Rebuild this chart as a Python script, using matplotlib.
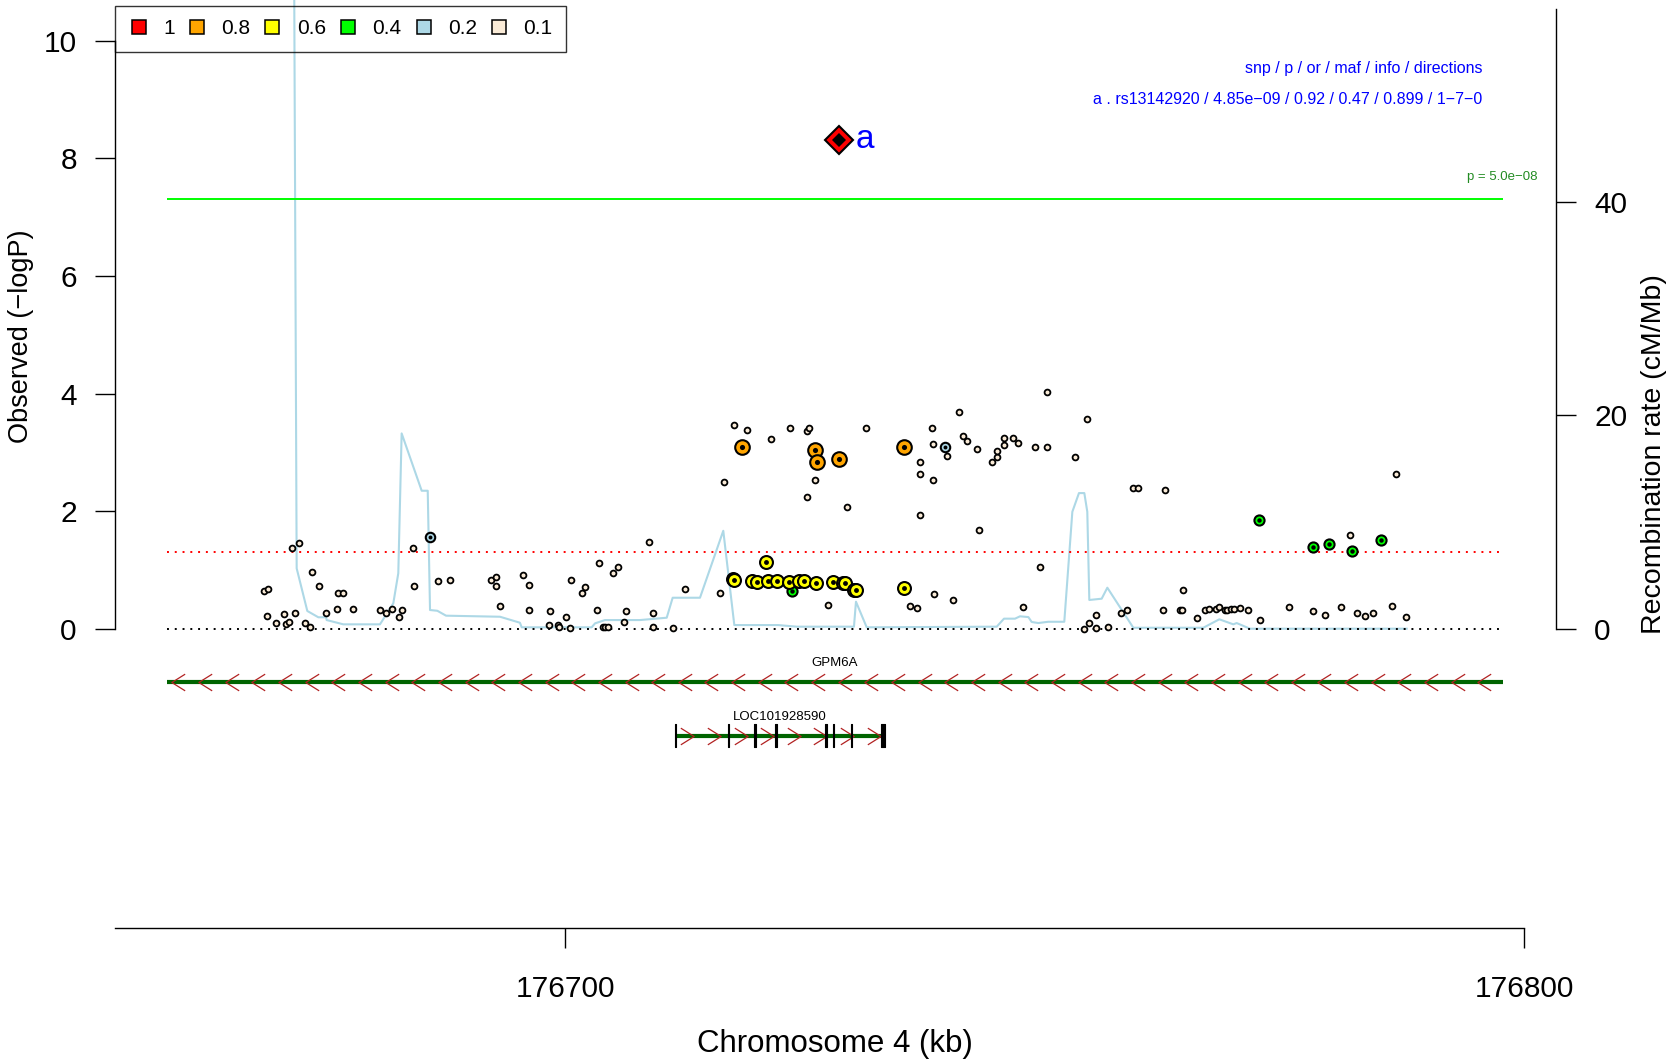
import numpy as np
import matplotlib
matplotlib.use("Agg")
from matplotlib import pyplot as plt
from matplotlib.lines import Line2D
from matplotlib.path import Path

plt.rcParams["font.family"] = ["Liberation Sans", "DejaVu Sans"]

chrom = 4
region = [176658.45, 176797.78]  # kb
gw_p = 5e-08
nominal_p = 0.05

# SNPs by LD class with the lead SNP: position (kb), -log10(p)
low_pos = [176668.57, 176668.96, 176668.92, 176669.82, 176670.63, 176670.83, 176671.21, 176671.84,
           176671.49, 176672.19, 176672.88, 176673.40, 176673.58, 176674.31, 176675.07, 176676.15,
           176676.29, 176676.81, 176677.82, 176680.70, 176681.30, 176681.95, 176682.62, 176682.93,
           176684.08, 176684.19, 176686.72, 176687.94, 176692.28, 176692.77, 176692.74, 176693.19,
           176695.62, 176696.24, 176696.24, 176698.40, 176698.33, 176699.27, 176699.37, 176700.10,
           176700.49, 176700.59, 176701.74, 176702.02, 176703.28, 176703.52, 176703.90, 176704.11,
           176704.45, 176705.01, 176705.53, 176706.30, 176706.15, 176708.73, 176709.12, 176709.12,
           176711.20, 176712.52,
           176716.11, 176716.52, 176717.63, 176718.95, 176721.43, 176723.41, 176725.24, 176725.45,
           176726.01, 176725.24, 176729.35, 176727.40, 176731.40, 176735.96, 176736.72, 176736.97,
           176736.97, 176736.97, 176738.25, 176738.32, 176738.35, 176738.46, 176739.78, 176740.44,
           176741.04, 176741.52, 176741.87, 176742.94, 176743.12, 176744.54, 176745.06, 176745.06,
           176745.76, 176745.76, 176746.73, 176747.19, 176747.74, 176748.96, 176750.22, 176750.25,
           176749.48, 176753.17, 176754.39, 176754.11, 176754.66, 176755.33, 176755.36, 176756.58,
           176758.00, 176758.59, 176759.19, 176759.77,
           176762.32, 176762.59, 176764.12, 176764.30, 176764.43, 176765.92, 176766.76, 176767.18,
           176767.84, 176768.19, 176768.78, 176769.05, 176769.44, 176769.78, 176770.41, 176771.21,
           176772.50, 176775.49, 176778.02, 176779.24, 176780.91, 176781.88, 176782.58, 176783.45,
           176784.22, 176786.26, 176786.65, 176787.72]
low_logp = [0.64, 0.68, 0.22, 0.11, 0.26, 0.08, 0.12, 0.28, 1.38, 1.47, 0.10, 0.03, 0.97, 0.73,
            0.28, 0.34, 0.61, 0.61, 0.34, 0.32, 0.28, 0.34, 0.20, 0.32, 1.38, 0.73, 0.81, 0.84,
            0.83, 0.88, 0.73, 0.39, 0.92, 0.74, 0.32, 0.31, 0.07, 0.07, 0.04, 0.20, 0.02, 0.83,
            0.61, 0.71, 0.32, 1.13, 0.04, 0.04, 0.04, 0.96, 1.06, 0.31, 0.12, 1.48, 0.27, 0.04,
            0.01, 0.68,
            0.61, 2.50, 3.47, 3.39, 3.23, 3.41, 3.37, 3.42, 2.53, 2.24, 2.08, 0.40, 3.42, 0.39,
            0.36, 2.84, 2.63, 1.94, 3.42, 3.15, 2.54, 0.59, 2.94, 0.49, 3.69, 3.28, 3.19, 3.06,
            1.69, 2.84, 2.92, 3.02, 3.12, 3.25, 3.24, 3.16, 0.37, 3.10, 4.02, 3.10, 1.05, 2.92,
            3.57, 0.00, 0.10, 0.23, 0.01, 0.04, 0.28, 0.32, 2.39, 2.39,
            0.32, 2.36, 0.32, 0.32, 0.67, 0.19, 0.32, 0.34, 0.34, 0.37, 0.33, 0.33, 0.34, 0.34,
            0.35, 0.32, 0.16, 0.37, 0.31, 0.24, 0.37, 1.59, 0.27, 0.22, 0.28, 0.39, 2.64, 0.21]

r2_02_pos = [176685.92, 176739.61]
r2_02_logp = [1.57, 3.10]
r2_04_pos = [176723.62, 176772.33, 176777.99, 176779.66, 176782.06, 176785.09]
r2_04_logp = [0.64, 1.86, 1.39, 1.45, 1.33, 1.51]
r2_06_pos = [176717.46, 176717.57, 176719.51, 176719.97, 176720.94, 176721.11, 176722.05, 176723.30,
             176724.38, 176724.90, 176726.18, 176727.89, 176728.94, 176729.21, 176730.08, 176730.33,
             176735.33]
r2_06_logp = [0.85, 0.83, 0.81, 0.80, 1.14, 0.81, 0.81, 0.80, 0.81, 0.82, 0.79, 0.80, 0.78, 0.78,
              0.66, 0.67, 0.69]
r2_08_pos = [176718.46, 176726.05, 176726.29, 176728.58, 176735.33]
r2_08_logp = [3.10, 3.05, 2.84, 2.89, 3.10]

lead_label = "a"
lead_snp = "rs13142920"
lead_pos = 176728.58
lead_p = 4.85e-09
lead_or = 0.92
lead_maf = 0.47
lead_info = 0.899
lead_dir = "1-7-0"

# recombination rate (cM/Mb)
recomb_pos = [176671.30, 176671.98, 176673.09, 176674.24, 176675.04, 176675.11, 176676.84, 176680.67,
              176682.06, 176682.58, 176682.93, 176685.02, 176685.65, 176685.89, 176686.65, 176687.56,
              176693.19, 176695.27, 176695.45, 176702.75, 176703.10, 176704.14, 176707.79, 176710.58,
              176711.20, 176714.05, 176716.48, 176717.63, 176722.22, 176724.14, 176730.11, 176730.32,
              176731.44, 176745.00, 176745.76, 176746.91, 176747.43, 176748.30, 176748.65, 176749.34,
              176750.38, 176752.05, 176752.89, 176753.58, 176754.14, 176754.45, 176754.66, 176755.95,
              176756.54, 176759.25, 176766.55, 176768.22, 176769.68, 176770.03, 176771.42, 176787.77]
recomb_rate = [150.0, 5.68, 1.69, 1.10, 1.10, 0.84, 0.44, 0.44, 2.41, 5.22, 18.32, 12.95, 12.95, 1.78,
               1.71, 1.25, 1.15, 0.59, 0.16, 0.16, 0.53, 0.84, 0.84, 1.06, 2.93, 2.93, 9.20, 0.37,
               0.37, 0.22, 0.22, 2.56, 0.16, 0.22, 0.97, 0.97, 1.19, 1.12, 0.66, 0.56, 0.68, 0.68,
               10.98, 12.73, 12.73, 10.98, 2.72, 2.84, 3.87, 0.12, 0.12, 0.91, 0.44, 0.56, 0.03, 0.03]

# genes
gene_names = ["GPM6A", "LOC101928590"]
gene_starts = [176658.45, 176711.52]
gene_ends = [176797.78, 176733.27]
gene_strands = ["-", "+"]
loc_exon_starts = [176711.45, 176716.93, 176719.72, 176721.91, 176727.12, 176727.89, 176729.76, 176732.93]
loc_exon_ends = [176711.59, 176717.07, 176719.86, 176722.05, 176727.26, 176728.03, 176729.90, 176733.30]

legend_labels = ["1", "0.8", "0.6", "0.4", "0.2", "0.1"]
legend_colors = ["#FF0000", "#FFA500", "#FFFF00", "#00FF00", "#ADD8E6", "#FAEBD7"]


def minus(s):
    return s.replace("-", "\u2212")


fig = plt.figure(figsize=(16.7, 10.61), dpi=100)
ax = fig.add_axes([115 / 1670, 1 - 928.3 / 1061, 1441 / 1670, 928.3 / 1061])
ax2 = ax.twinx()
ax.set_zorder(ax2.get_zorder() + 1)
ax.patch.set_visible(False)

ax.set_xlim(176653.03, 176803.34)
ax.set_ylim(-5.086, 10.69)
ax2.set_ylim(-5.086 * 5.5103, 10.69 * 5.5103)

# recombination
ax2.plot(recomb_pos, recomb_rate, color="#ADD8E6", lw=1.5)

# threshold lines
ax.hlines(-np.log10(gw_p), region[0], region[1], color="#00FF00", lw=1.4)
ax.hlines(-np.log10(nominal_p), region[0], region[1], color="red", lw=1.4, linestyles=[(0, (1, 3))])
ax.hlines(0, region[0], region[1], color="black", lw=1.4, linestyles=[(0, (1, 3))])
ax.text(176801.36, 7.69, minus("p = %.1e" % gw_p), ha="right", va="center", color="#228B22",
        fontsize=9.5)

# snps
ax.plot(low_pos, low_logp, "o", ls="none", ms=4.2, mfc="#FAEBD7", mec="black", mew=1.3, zorder=3)


def draw_group(pos, logp, color, size, dot):
    for i in np.argsort(pos):
        ax.plot(pos[i], logp[i], "o", ms=size, mfc=color, mec="black", mew=1.5, zorder=3)
        ax.plot(pos[i], logp[i], "o", ms=dot, mfc="black", mew=0, zorder=3)


draw_group(r2_02_pos, r2_02_logp, "#ADD8E6", 6.8, 2.8)
draw_group(r2_04_pos, r2_04_logp, "#00FF00", 7.3, 3.2)
draw_group(r2_06_pos, r2_06_logp, "#FFFF00", 9.3, 3.5)
draw_group(r2_08_pos, r2_08_logp, "#FFA500", 10.5, 3.7)

lead_logp = -np.log10(lead_p)
ax.plot(lead_pos, lead_logp, "D", ms=14.5, mfc="red", mec="black", mew=1.5, zorder=4)
ax.plot(lead_pos, lead_logp, "D", ms=6.8, mfc="black", mew=0, zorder=4)
ax.annotate(lead_label, (lead_pos, lead_logp), xytext=(12, 0), textcoords="offset points",
            color="blue", fontsize=24, ha="left", va="center")

info = "%s . %s / %.2e / %.2f / %.2f / %.3f / %s" % (lead_label, lead_snp, lead_p, lead_or,
                                                  lead_maf, lead_info, lead_dir)
ax.text(176795.69, 9.52, "snp / p / or / maf / info / directions", ha="right", va="center",
        color="blue", fontsize=11.5)
ax.text(176795.69, 9.00, minus(info), ha="right", va="center", color="blue", fontsize=11.5)

# gene track
track_levels = [-0.894, -1.813]
chev_left = Path([(0.8, 1), (-0.8, 0), (0.8, -1)], [Path.MOVETO, Path.LINETO, Path.LINETO])
chev_right = Path([(-0.8, 1), (0.8, 0), (-0.8, -1)], [Path.MOVETO, Path.LINETO, Path.LINETO])
for name, s, e, strand, lev in zip(gene_names, gene_starts, gene_ends, gene_strands, track_levels):
    ax.plot([s, e], [lev, lev], color="#006400", lw=3.0, solid_capstyle="butt", zorder=2)
    cx = np.arange(s + 1.2, e, 2.78)
    ax.plot(cx, np.full(len(cx), lev), ls="none", marker=chev_left if strand == "-" else chev_right,
            ms=12, mfc="none", mec="#B22222", mew=0.9, zorder=3)
    ax.text((s + e) / 2, lev + 0.31, name, ha="center", va="center", fontsize=9.5)
ax.broken_barh([(a, b - a) for a, b in zip(loc_exon_starts, loc_exon_ends)],
               (track_levels[1] - 0.2, 0.4), facecolor="black", edgecolor="black", lw=0.8, zorder=4)

# axes
for side in ["top", "right"]:
    ax.spines[side].set_visible(False)
for side in ["top", "left", "bottom"]:
    ax2.spines[side].set_visible(False)
ax.spines["left"].set_bounds(0, 10)
ax.spines["bottom"].set_bounds(176653.03, 176800)
ax2.spines["right"].set_bounds(0, 58.1)
for sp in [ax.spines["left"], ax.spines["bottom"], ax2.spines["right"]]:
    sp.set_linewidth(1.0)

ax.set_yticks([0, 2, 4, 6, 8, 10])
ax.set_xticks([176700, 176800], labels=["176700", "176800"])
ax2.set_yticks([0, 20, 40])
ax.tick_params(axis="y", length=14.5, width=1, labelsize=21.5, pad=13)
ax.tick_params(axis="x", length=14.5, width=1, labelsize=21.5, pad=19)
ax2.tick_params(axis="y", length=14.5, width=1, labelsize=21.5, pad=13)

ax.set_ylabel("Observed (\u2212logP)", fontsize=19.5)
ax.yaxis.set_label_coords(-0.0652, 0.638)
ax.yaxis.label.set_va("center")
ax2.set_ylabel("Recombination rate (cM/Mb)", fontsize=20.5)
ax2.yaxis.set_label_coords(1.068, 0.511)
ax2.yaxis.label.set_va("center")
ax.set_xlabel("Chromosome %d (kb)" % chrom, fontsize=22.5)
ax.xaxis.set_label_coords(0.4993, -0.1243)
ax.xaxis.label.set_va("center")

handles = [Line2D([], [], ls="none", marker="s", ms=9.5, mfc=c, mec="black", mew=1.1)
           for c in legend_colors]
leg = ax.legend(handles, legend_labels, loc="upper left", bbox_to_anchor=(0, 0.9935), ncol=6,
                fontsize=15, fancybox=False, edgecolor="black", facecolor="none",
                borderaxespad=0, borderpad=0.64, handlelength=1.0, handletextpad=0.68,
                columnspacing=0.55)
leg.get_frame().set_linewidth(1.0)
leg.set_zorder(1)

fig.savefig("out.png", dpi=100)
